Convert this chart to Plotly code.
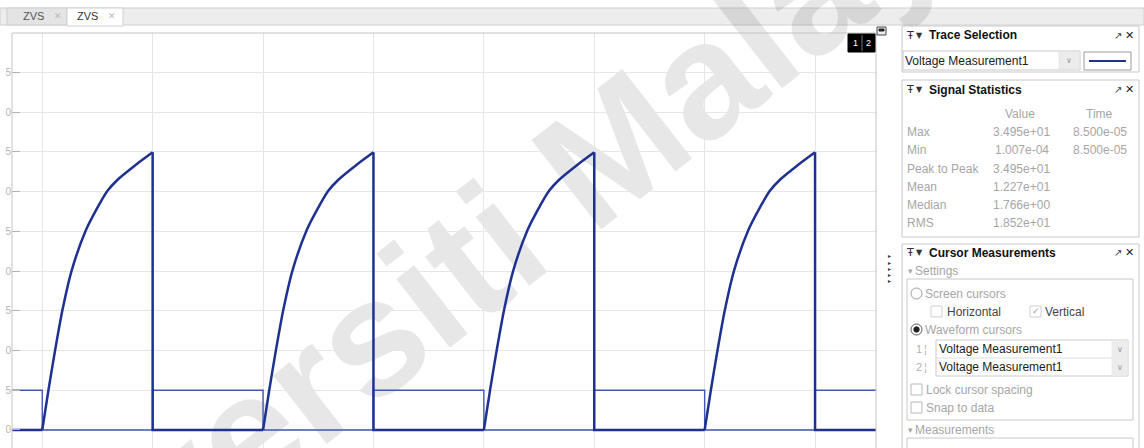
import plotly.graph_objects as go

# ---------------- data (time in microseconds, voltage in volts) ----------------
# Gate drive signal: square wave between 5 V and 0 V
gate_time_us = [7.26, 10, 10, 20, 20, 30, 30, 40, 40, 50, 50, 60, 60, 70, 70, 80, 80, 85.52]
gate_volts = [5, 5, 0, 0, 5, 5, 0, 0, 5, 5, 0, 0, 5, 5, 0, 0, 5, 5]

# Switch voltage: resonant rise during each off interval, then clamped to zero
rise_start_us = [10, 30, 50, 70]
rise_offset_us = [0, 0.56, 1.16, 1.83, 2.67, 3.94, 4.85, 5.91, 6.82, 8.4, 10.0]
rise_volts = [0, 5.0, 10.0, 15.1, 20.1, 25.1, 27.6, 30.1, 31.5, 33.3, 34.95]
t_begin_us, t_end_us = 7.26, 85.52

y_ticks = [0, 5, 10, 15, 20, 25, 30, 35, 40, 45]

trace_names = ["Voltage Measurement1", "Voltage Measurement1"]
stat_names = ["Max", "Min", "Peak to Peak", "Mean", "Median", "RMS"]
stat_values = ["3.495e+01", "1.007e-04", "3.495e+01", "1.227e+01", "1.766e+00", "1.852e+01"]
stat_times = ["8.500e-05", "8.500e-05", "", "", "", ""]

# ---------------- build the switch-voltage polylines ----------------
rise_t, rise_v = [], []
for s in rise_start_us:
    rise_t += [s + d for d in rise_offset_us] + [None]
    rise_v += rise_volts + [None]

flat_t, flat_v = [t_begin_us, rise_start_us[0], None], [0, 0, None]
for i, s in enumerate(rise_start_us):
    stop = rise_start_us[i + 1] if i + 1 < len(rise_start_us) else t_end_us
    off = s + rise_offset_us[-1]
    flat_t += [off, off, stop, None]
    flat_v += [rise_volts[-1], 0, 0, None]

DARK = "#1f3190"
LIGHT = "#4257b4"

fig = go.Figure()
fig.add_trace(go.Scatter(x=gate_time_us, y=gate_volts, mode="lines",
                         line=dict(color=LIGHT, width=1.4), hoverinfo="skip"))
fig.add_trace(go.Scatter(x=flat_t, y=flat_v, mode="lines",
                         line=dict(color=DARK, width=2.5), hoverinfo="skip"))
fig.add_trace(go.Scatter(x=rise_t, y=rise_v, mode="lines",
                         line=dict(color=DARK, width=2.5, shape="spline", smoothing=0.7),
                         hoverinfo="skip"))

# ---------------- page geometry helpers ----------------
L, R, T, B = 12, 876, 33, 448
W, H = R - L, B - T


def px(x):
    return (x - L) / W


def py(y):
    return (B - y) / H


shapes, anns = [], []


def box(x0, y0, x1, y1, line="#c8c8c8", fill="white", width=1, layer="above", kind="rect"):
    shapes.append(dict(type=kind, xref="paper", yref="paper",
                       x0=px(x0), x1=px(x1), y0=py(y1), y1=py(y0),
                       line=dict(color=line, width=width), fillcolor=fill, layer=layer))


def seg(x0, y0, x1, y1, color="#c8c8c8", width=1, layer="above"):
    shapes.append(dict(type="line", xref="paper", yref="paper",
                       x0=px(x0), x1=px(x1), y0=py(y0), y1=py(y1),
                       line=dict(color=color, width=width), layer=layer))


def text(x, y, s, size=12, color="#1a1a1a", anchor="left", bold=False,
         family="Liberation Sans, Arial, sans-serif"):
    anns.append(dict(xref="paper", yref="paper", x=px(x), y=py(y),
                     text=f"<b>{s}</b>" if bold else s, showarrow=False,
                     xanchor=anchor, yanchor="middle", borderpad=0,
                     font=dict(size=size, color=color, family=family)))


# ---------------- tab strip ----------------
box(0, 8, 1144, 25, line="#d0d0d0", fill="#ededed", layer="below")
box(7, 8, 67, 25, line="#cfcfcf", fill="#e4e4e4", layer="below")
box(67, 8, 123, 26, line="#cfcfcf", fill="white", layer="below")
text(33, 16.5, "ZVS", size=11, color="#555555", anchor="center")
text(58, 16.5, "✕", size=9, color="#bbbbbb", anchor="center", family="DejaVu Sans")
text(87, 16.5, "ZVS", size=11, color="#333333", anchor="center")
text(112, 16.5, "✕", size=9, color="#bbbbbb", anchor="center", family="DejaVu Sans")

# ---------------- watermark behind the traces ----------------
cx, cy = 450, 255
shapes.append(dict(type="rect", xref="paper", yref="paper",
                   x0=px(cx - 1), x1=px(cx + 1), y0=py(cy + 1), y1=py(cy - 1),
                   line=dict(width=0), fillcolor="rgba(0,0,0,0)", layer="below",
                   label=dict(text="Universiti Malaya", textangle=-38,
                              textposition="middle center",
                              font=dict(size=165, color="rgba(0,0,0,0.095)",
                                        family="Liberation Sans, Arial",
                                        weight="bold"))))

# ---------------- plot frame ----------------
seg(L, T, R, T, color="#c4c4c4")
seg(L, T, L, B, color="#c4c4c4")
seg(R, T, R, B, color="#c4c4c4")
# left window edge hides the leading digit of the tick labels
box(0, 28, 5.5, 449, line="white", fill="white", width=0)

# display-layout badge "1 2"
box(848, 34, 875, 52, line="black", fill="black")
seg(862, 35, 862, 51, color="#777777")
text(855, 43, "1", size=9, color="white", anchor="center")
text(868.5, 43, "2", size=9, color="white", anchor="center")

# small undock icon at the plot corner
box(877, 27, 886, 35, line="#444444", fill="#eeeeee")
box(879, 29, 884, 31, line="#222222", fill="#222222")

# collapse arrows
for yy in [256, 262, 268, 274, 280]:
    text(889, yy, "▸", size=6, color="#333333", anchor="center", family="DejaVu Sans")


def panel_header(y, title):
    text(905, y, "Ŧ", size=11, color="#333333", family="DejaVu Sans")
    text(915, y, "▼", size=8, color="#333333", family="DejaVu Sans")
    text(928, y, title, size=12, color="#111111", bold=True)
    text(1118, y, "↗", size=10, color="#333333", anchor="center", family="DejaVu Sans")
    text(1129, y, "<b>✕</b>", size=11, color="#222222", anchor="center", family="DejaVu Sans")


# ---------------- Trace Selection ----------------
box(902, 26, 1139, 72)
panel_header(35, "Trace Selection")
box(903, 51, 1080, 70, line="#c8c8c8")
box(1059, 52, 1079, 69, line="#e6e6e6", fill="#ececec")
text(1069, 60, "∨", size=8, color="#9a9a9a", anchor="center", family="DejaVu Sans")
text(904, 60.5, trace_names[0], size=12)
box(1084, 52, 1131, 70, line="#9a9a9a")
seg(1089, 61, 1126, 61, color=DARK, width=2)

# ---------------- Signal Statistics ----------------
box(902, 80, 1139, 237)
panel_header(89.5, "Signal Statistics")
GREY = "#a6a6a6"
text(1020, 114, "Value", size=12, color=GREY, anchor="center")
text(1099, 114, "Time", size=12, color=GREY, anchor="center")
row_y = [132, 150, 168.5, 186.5, 205, 223]
for name, val, tm, yy in zip(stat_names, stat_values, stat_times, row_y):
    text(906, yy, name, size=12, color=GREY)
    text(1022, yy, val, size=12, color=GREY, anchor="center")
    if tm:
        text(1100, yy, tm, size=12, color=GREY, anchor="center")

# ---------------- Cursor Measurements ----------------
box(902, 244, 1139, 470)
panel_header(252.5, "Cursor Measurements")
text(907, 271, "▾", size=9, color=GREY, family="DejaVu Sans")
text(914, 271, "Settings", size=12, color=GREY)
box(907, 279, 1133, 420, line="#c8c8c8")
box(911, 288, 922, 299, line="#9a9a9a", kind="circle")
text(924, 293.5, "Screen cursors", size=12, color=GREY)
box(931, 306, 942, 317, line="#cfcfcf")
text(946, 312, "Horizontal", size=12, color="#444444")
box(1030, 306, 1041, 317, line="#cfcfcf")
text(1035.5, 311, "✓", size=9, color="#a0a0a0", anchor="center", family="DejaVu Sans")
text(1044, 312, "Vertical", size=12, color="#444444")
box(911, 324, 922, 335, line="#555555", kind="circle")
box(913.8, 326.8, 919.2, 332.2, line="#222222", fill="#222222", kind="circle")
text(924, 330, "Waveform cursors", size=12, color=GREY)
text(915, 349, "1", size=11, color="#b0b0b0")
text(923, 349, "¦", size=11, color="#b0b0b0")
text(915, 367, "2", size=11, color="#b0b0b0")
text(923, 367, "¦", size=11, color="#b0b0b0")
box(936, 340, 1128, 376, line="#cccccc")
seg(936, 358, 1128, 358, color="#dddddd")
box(1112, 341, 1127, 375, line="#ececec", fill="#ececec")
for yy, name in zip([349, 367], trace_names):
    text(938, yy, name, size=12)
    text(1120, yy, "∨", size=8, color="#9a9a9a", anchor="center", family="DejaVu Sans")
box(911, 384, 922, 395, line="#b8b8b8")
text(925, 390, "Lock cursor spacing", size=12, color=GREY)
box(911, 402, 922, 413, line="#b8b8b8")
text(925, 407.5, "Snap to data", size=12, color=GREY)
text(907, 430, "▾", size=9, color=GREY, family="DejaVu Sans")
text(914, 430, "Measurements", size=12, color=GREY)
box(907, 438, 1133, 470, line="#c8c8c8")

fig.update_layout(
    width=1144, height=448, autosize=False,
    margin=dict(l=L, r=1144 - R, t=T, b=0, pad=0),
    paper_bgcolor="white", plot_bgcolor="rgba(0,0,0,0)",
    showlegend=False,
    shapes=shapes, annotations=anns,
    xaxis=dict(range=[t_begin_us, t_end_us], tick0=0, dtick=10,
               showgrid=True, gridcolor="#e6e6e6", gridwidth=1,
               showticklabels=False, ticks="", zeroline=False, showline=False),
    yaxis=dict(range=[-2.27, 49.97], tickvals=y_ticks,
               ticktext=[str(v) for v in y_ticks],
               showgrid=True, gridcolor="#e6e6e6", gridwidth=1,
               ticks="inside", ticklen=8, tickcolor="#b0b0b0", tickwidth=1,
               tickfont=dict(size=10, color="#b5b5b5", family="Liberation Sans, Arial"),
               zeroline=False, showline=False),
)

fig.write_html("out.html")
